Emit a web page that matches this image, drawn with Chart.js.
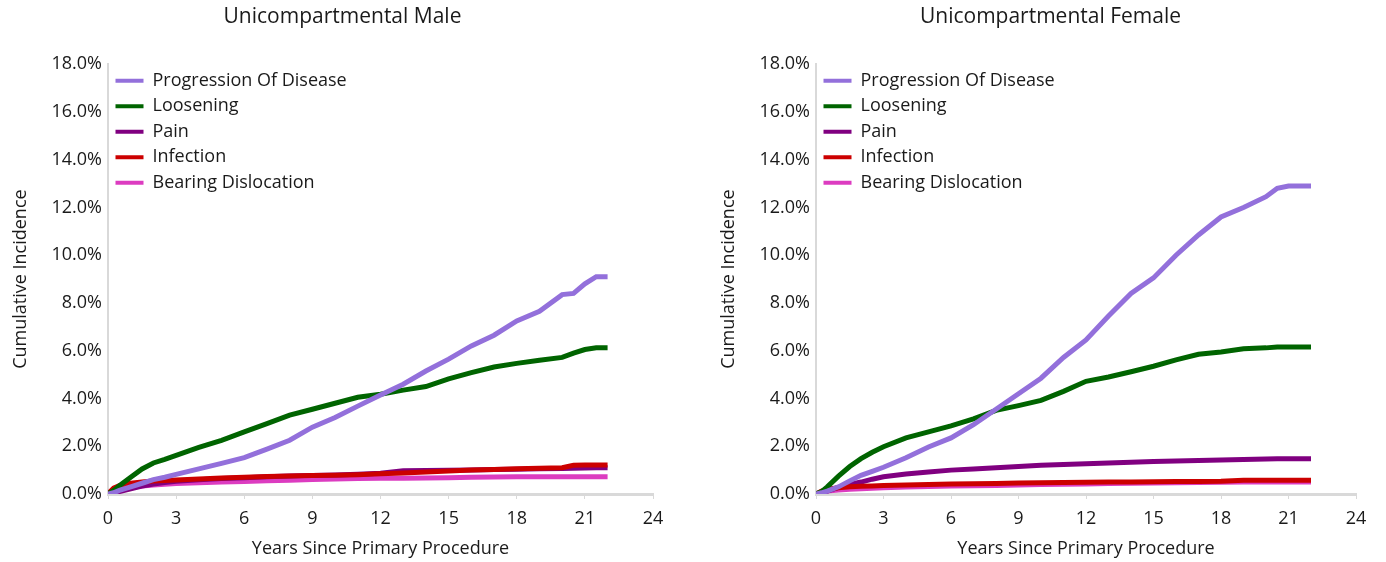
<!DOCTYPE html>
<html>
<head>
<meta charset="utf-8">
<script src="https://cdn.jsdelivr.net/npm/chart.js@4.4.1/dist/chart.umd.min.js"></script>
<style>
  html, body { margin: 0; padding: 0; background: #fff; }
  #wrap { position: relative; width: 1386px; height: 562px; }
  #maleChart { position: absolute; left: 0; top: 0; }
  #femaleChart { position: absolute; left: 708px; top: 0; }
</style>
</head>
<body>
<div id="wrap">
  <canvas id="maleChart" width="678" height="562"></canvas>
  <canvas id="femaleChart" width="670" height="562"></canvas>
</div>
<script>
// Years since primary procedure (read points)
const years = [0, 0.25, 0.5, 1, 1.5, 2, 2.5, 3, 4, 5, 6, 7, 8, 9, 10, 11, 12, 13, 14, 15, 16, 17, 18, 19, 20, 20.5, 21, 21.5, 22];

// Unicompartmental Male (cumulative incidence, %)
const maleProgression = [0, 0.05, 0.15, 0.3, 0.45, 0.6, 0.7, 0.82, 1.05, 1.28, 1.52, 1.88, 2.25, 2.8, 3.2, 3.68, 4.15, 4.6, 5.15, 5.65, 6.2, 6.65, 7.25, 7.65, 8.35, 8.4, 8.8, 9.1, 9.1];
const maleLoosening = [0, 0.15, 0.35, 0.7, 1.05, 1.3, 1.45, 1.62, 1.95, 2.25, 2.6, 2.95, 3.3, 3.55, 3.8, 4.05, 4.18, 4.35, 4.5, 4.82, 5.08, 5.32, 5.47, 5.6, 5.72, 5.9, 6.05, 6.12, 6.12];
const malePain = [0, 0.04, 0.1, 0.22, 0.33, 0.42, 0.48, 0.53, 0.6, 0.65, 0.68, 0.72, 0.75, 0.78, 0.8, 0.83, 0.87, 0.97, 0.98, 0.99, 1.01, 1.03, 1.04, 1.06, 1.07, 1.08, 1.09, 1.1, 1.1];
const maleInfection = [0, 0.25, 0.35, 0.45, 0.5, 0.54, 0.57, 0.59, 0.63, 0.67, 0.7, 0.73, 0.75, 0.77, 0.79, 0.81, 0.85, 0.88, 0.92, 0.96, 1.0, 1.03, 1.06, 1.08, 1.1, 1.2, 1.21, 1.21, 1.21];
const maleBearing = [0, 0.1, 0.18, 0.27, 0.33, 0.38, 0.41, 0.44, 0.47, 0.5, 0.52, 0.55, 0.58, 0.61, 0.63, 0.65, 0.66, 0.66, 0.67, 0.68, 0.7, 0.71, 0.72, 0.72, 0.72, 0.72, 0.72, 0.72, 0.72];

// Unicompartmental Female (cumulative incidence, %)
const femaleProgression = [0, 0.05, 0.12, 0.3, 0.55, 0.78, 0.95, 1.12, 1.52, 1.97, 2.35, 2.9, 3.55, 4.2, 4.85, 5.72, 6.45, 7.45, 8.4, 9.05, 10.0, 10.85, 11.6, 12.0, 12.45, 12.8, 12.9, 12.9, 12.9];
const femaleLoosening = [0, 0.1, 0.3, 0.75, 1.15, 1.48, 1.75, 1.98, 2.35, 2.6, 2.85, 3.15, 3.5, 3.7, 3.92, 4.3, 4.72, 4.9, 5.12, 5.35, 5.62, 5.85, 5.95, 6.08, 6.12, 6.16, 6.16, 6.16, 6.16];
const femalePain = [0, 0.05, 0.12, 0.28, 0.4, 0.5, 0.62, 0.72, 0.84, 0.92, 1.0, 1.05, 1.1, 1.15, 1.2, 1.24, 1.27, 1.3, 1.33, 1.36, 1.38, 1.4, 1.42, 1.45, 1.47, 1.48, 1.48, 1.48, 1.48];
const femaleInfection = [0, 0.12, 0.2, 0.26, 0.3, 0.32, 0.34, 0.36, 0.38, 0.4, 0.42, 0.43, 0.44, 0.46, 0.47, 0.48, 0.49, 0.5, 0.5, 0.51, 0.52, 0.52, 0.53, 0.58, 0.58, 0.58, 0.58, 0.58, 0.58];
const femaleBearing = [0, 0.08, 0.12, 0.17, 0.2, 0.22, 0.24, 0.26, 0.29, 0.31, 0.33, 0.35, 0.36, 0.38, 0.4, 0.41, 0.42, 0.44, 0.45, 0.46, 0.47, 0.48, 0.49, 0.5, 0.5, 0.5, 0.5, 0.5, 0.5];

const seriesNames = ['Progression Of Disease', 'Loosening', 'Pain', 'Infection', 'Bearing Dislocation'];
const seriesColors = ['#9370DB', '#006400', '#800080', '#CC0000', '#DC3CC0'];

const FONT = "'Open Sans', 'Noto Sans', sans-serif";
const TEXT = '#1a1a1a';
const AXIS = '#d9d9d9';

function toPoints(values) {
    return values.map((v, i) => ({ x: years[i], y: v }));
}

// legend position 'chartArea' leaves the box at top 0 for vertical legends, move it into the plot.
// Also re-centre the title a bit to the right, like the original export.
const boxTweaks = {
    id: 'boxTweaks',
    afterLayout(chart) {
        const legend = chart.legend;
        if (legend) {
            legend.top = chart.chartArea.top;
            legend.bottom = chart.chartArea.bottom;
        }
        if (chart.titleBlock) {
            chart.titleBlock.left = 0;
            chart.titleBlock.right = 685;
        }
    }
};

function makeChart(canvasId, title, seriesValues, rightPad) {
    // draw order: purple, green on top; red above pain; pink at bottom
    const drawOrder = [1, 2, 4, 3, 5];
    const datasets = seriesValues.map((vals, i) => ({
        label: seriesNames[i],
        data: toPoints(vals),
        borderColor: seriesColors[i],
        backgroundColor: seriesColors[i],
        borderWidth: 5,
        pointRadius: 0,
        tension: 0,
        fill: false,
        order: drawOrder[i]
    }));

    return new Chart(document.getElementById(canvasId), {
        type: 'line',
        data: { datasets },
        plugins: [boxTweaks],
        options: {
            responsive: false,
            devicePixelRatio: 1,
            animation: false,
            layout: { padding: { left: 0, right: rightPad, top: 0, bottom: 0 } },
            plugins: {
                title: {
                    display: true,
                    text: title,
                    color: TEXT,
                    font: { family: FONT, size: 21, weight: 'normal' },
                    padding: { top: 4, bottom: 35 }
                },
                legend: {
                    position: 'chartArea',
                    align: 'start',
                    labels: {
                        usePointStyle: true,
                        pointStyle: 'line',
                        pointStyleWidth: 28,
                        color: TEXT,
                        font: { family: FONT, size: 18 },
                        padding: 7.5,
                        sort: (a, b) => a.datasetIndex - b.datasetIndex,
                        generateLabels: (chart) => Chart.defaults.plugins.legend.labels
                            .generateLabels(chart)
                            .map(item => ({ ...item, lineWidth: 4 }))
                    }
                },
                tooltip: { enabled: false }
            },
            scales: {
                x: {
                    type: 'linear',
                    min: 0,
                    max: 24,
                    ticks: {
                        stepSize: 3,
                        color: TEXT,
                        font: { family: FONT, size: 18 },
                        padding: 9,
                        maxRotation: 0
                    },
                    grid: {
                        drawOnChartArea: false,
                        drawTicks: true,
                        tickLength: 5,
                        color: AXIS,
                        lineWidth: 1
                    },
                    border: { display: true, color: AXIS, width: 3 },
                    title: {
                        display: true,
                        text: 'Years Since Primary Procedure',
                        color: TEXT,
                        font: { family: FONT, size: 18 },
                        padding: { top: 0, bottom: 2 }
                    },
                    afterFit: (scale) => { scale.height = 68; }
                },
                y: {
                    min: 0,
                    max: 18,
                    ticks: {
                        stepSize: 2,
                        color: TEXT,
                        font: { family: FONT, size: 18 },
                        padding: 6,
                        callback: (v) => v.toFixed(1) + '%'
                    },
                    grid: { display: false, drawTicks: false },
                    border: { display: true, color: AXIS, width: 2 },
                    title: {
                        display: true,
                        text: 'Cumulative Incidence',
                        color: TEXT,
                        font: { family: FONT, size: 18 },
                        padding: { top: 10, bottom: 0 }
                    },
                    afterFit: (scale) => { scale.width = 108; }
                }
            }
        }
    });
}

makeChart('maleChart', 'Unicompartmental Male',
    [maleProgression, maleLoosening, malePain, maleInfection, maleBearing], 25);
makeChart('femaleChart', 'Unicompartmental Female',
    [femaleProgression, femaleLoosening, femalePain, femaleInfection, femaleBearing], 22);
</script>
</body>
</html>
